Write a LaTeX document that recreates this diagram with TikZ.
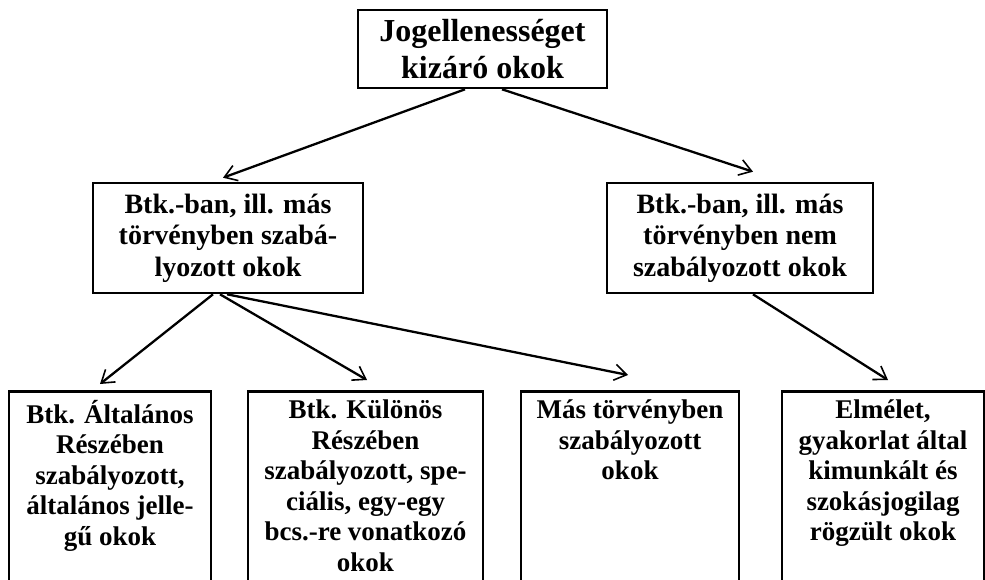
\documentclass[tikz,border=0pt]{standalone}
\usepackage{fontspec}
\setmainfont{Liberation Serif}
\usetikzlibrary{arrows.meta}
\begin{document}
\begin{tikzpicture}[x=1pt,y=-1pt,
  frame/.style={draw, line width=2.6pt, inner sep=0pt},
  bigtxt/.style={font=\fontsize{32}{37}\selectfont\bfseries, align=center},
  txt/.style={font=\fontsize{27}{30.5}\selectfont\bfseries, align=center, inner sep=0pt},
  midtxt/.style={font=\fontsize{28}{31.5}\selectfont\bfseries, align=center, inner sep=0pt},
  conn/.style={line width=2.3pt, -{Straight Barb[length=12pt,width=16pt,line width=1.6pt]}}
]
\useasboundingbox (0,0) rectangle (985,579);
\clip (0,0) rectangle (985,579);
\node[frame, bigtxt, minimum width=249pt, minimum height=78pt] (top) at (482.5,49) {Jogellenességet\\kizáró okok};
\node[frame, midtxt, minimum width=270pt, minimum height=110pt] (ml) at (228,238) {Btk.-ban, ill. más\\törvényben szabá-\\lyozott okok};
\node[frame, midtxt, minimum width=266pt, minimum height=110pt] (mr) at (740,238) {Btk.-ban, ill. más\\törvényben nem\\szabályozott okok};
\node[frame, minimum width=202pt, minimum height=240pt, anchor=north] (b1) at (110,390) {};
\node[frame, minimum width=235pt, minimum height=240pt, anchor=north] (b2) at (365.5,390) {};
\node[frame, minimum width=218pt, minimum height=240pt, anchor=north] (b3) at (630,390) {};
\node[frame, minimum width=202pt, minimum height=240pt, anchor=north] (b4) at (883,390) {};
\node[txt, anchor=north] (t1) at (110,400) {Btk. Általános\\Részében\\szabályozott,\\általános jelle-\\gű okok};
\node[txt, anchor=north] (t2) at (365.5,400) {Btk. Különös\\Részében\\szabályozott, spe-\\ciális, egy-egy\\bcs.-re vonatkozó\\okok};
\node[txt, anchor=north] (t3) at (630,400) {Más törvényben\\szabályozott\\okok};
\node[txt, anchor=north] (t4) at (883,400) {Elmélet,\\gyakorlat által\\kimunkált és\\szokásjogilag\\rögzült okok};
\draw[conn] ([xshift=-17.5pt]top.south) -- ([xshift=-5pt,yshift=4pt]ml.north);
\draw[conn] ([xshift=19.5pt]top.south) -- ([xshift=13pt,yshift=10pt]mr.north);
\draw[conn] ([xshift=-15pt]ml.south) -- ([xshift=-10pt,yshift=6pt]b1.north);
\draw[conn] ([xshift=-8pt]ml.south) -- ([xshift=1.5pt,yshift=10pt]b2.north);
\draw[conn] ([xshift=-1pt]ml.south) -- ([xshift=-2pt,yshift=15pt]b3.north);
\draw[conn] ([xshift=13pt]mr.south) -- ([xshift=5pt,yshift=10pt]b4.north);
\end{tikzpicture}
\end{document}
